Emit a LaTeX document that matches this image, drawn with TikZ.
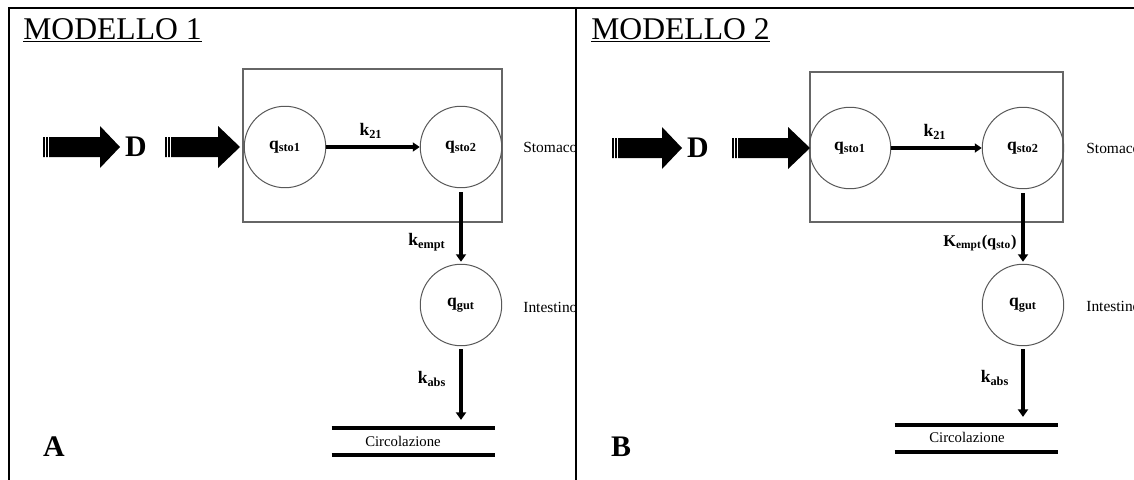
\documentclass[tikz,border=0pt]{standalone}
\usepackage{fontspec}
\setmainfont{Liberation Serif}
\usetikzlibrary{arrows.meta}
\newcommand\BigArr[4]{%
  \fill (#1,#4-10) -- (#2,#4-10) -- (#2,#4-21) -- (#3,#4) -- (#2,#4+21) -- (#2,#4+10) -- (#1,#4+10) -- cycle;
  \draw[white,line width=0.18mm] (#1+2.5,#4-11) -- (#1+2.5,#4+11) (#1+5.5,#4-11) -- (#1+5.5,#4+11);
}
\begin{document}
\begin{tikzpicture}[x=0.02cm,y=-0.02cm,
  comp/.style={circle,draw=black!65,line width=0.2mm,minimum size=1.63cm,inner sep=0pt,font=\fontsize{10}{12}\selectfont\bfseries},
  stobox/.style={draw=black!60,line width=0.3mm},
  vflow/.style={line width=0.95mm,-{Triangle[length=1.5mm,width=2mm]}},
  hflow/.style={line width=0.75mm,-{Triangle[length=1.4mm,width=1.8mm]}},
  rate/.style={font=\fontsize{10}{12}\selectfont\bfseries,inner sep=0pt},
  organ/.style={font=\fontsize{8.8}{10}\selectfont,anchor=west,inner sep=0pt},
  circbar/.style={minimum width=3.26cm,minimum height=0.53cm,inner sep=0pt},
  circtext/.style={font=\fontsize{8.4}{10}\selectfont,inner sep=0pt},
  title/.style={anchor=base west,inner sep=0pt,font=\fontsize{18}{20}\selectfont},
  panel/.style={inner sep=0pt,font=\fontsize{17}{20}\selectfont\bfseries},
  dose/.style={inner sep=0pt,font=\fontsize{17}{20}\selectfont\bfseries},
  frame/.style={line width=0.4mm}
]
\clip (0,0) rectangle (1134,480);
\fill[white] (0,0) rectangle (1134,480);
% frame
\draw[frame] (9,480) -- (9,8) -- (1134,8);
\draw[frame] (576,8) -- (576,480);

% ===== MODELLO 1 =====
\begin{scope}
\clip (10,9) rectangle (575,480);
\node[title] (t1) at (23,39) {\underline{MODELLO 1}};
\draw[stobox] (243,69) rectangle (502,222);
\node[comp] (s1a) at (285,147) {q\textsubscript{sto1}};
\node[comp] (s2a) at (461,147) {q\textsubscript{sto2}};
\node[comp] (ga) at (461,305) {q\textsubscript{gut}};
\node[circbar] (ca) at (413.5,441.5) {};
\draw[line width=0.8mm] (ca.north west) -- (ca.north east) (ca.south west) -- (ca.south east);
\node[circtext] (cta) at (403,441) {Circolazione};
\BigArr{43}{100}{120}{147}
\node[dose] (Da) at (136,147) {D};
\BigArr{165}{218}{240}{147}
\draw[hflow] (s1a) -- (s2a);
\node[rate] (k21a) at (371,131) {k\textsubscript{21}};
\draw[vflow,shorten <=0.8mm,shorten >=0.4mm] (s2a) -- (ga);
\node[rate] (kea) at (427,242) {k\textsubscript{empt}};
\draw[vflow,shorten <=0.6mm,shorten >=1.6mm] (ga) -- (ga |- ca.north);
\node[rate] (kaa) at (432,379) {k\textsubscript{abs}};
\node[organ] (sta) at (523,147) {Stomaco};
\node[organ] (ina) at (523,307) {Intestino};
\node[panel] (A) at (54,447) {A};
\end{scope}

% ===== MODELLO 2 =====
\begin{scope}
\clip (577,9) rectangle (1134,480);
\node[title] (t2) at (591,39) {\underline{MODELLO 2}};
\draw[stobox] (810,72) rectangle (1063,222);
\node[comp] (s1b) at (850,148) {q\textsubscript{sto1}};
\node[comp] (s2b) at (1023,148) {q\textsubscript{sto2}};
\node[comp] (gb) at (1023,305) {q\textsubscript{gut}};
\node[circbar] (cb) at (976.5,438.5) {};
\draw[line width=0.8mm] (cb.north west) -- (cb.north east) (cb.south west) -- (cb.south east);
\node[circtext] (ctb) at (967,437) {Circolazione};
\BigArr{612}{662}{682}{148}
\node[dose] (Db) at (698,148) {D};
\BigArr{732}{788}{810}{148}
\draw[hflow] (s1b) -- (s2b);
\node[rate] (k21b) at (935,132) {k\textsubscript{21}};
\draw[vflow,shorten <=0.8mm,shorten >=0.4mm] (s2b) -- (gb);
\node[rate,font=\fontsize{9.3}{11}\selectfont\bfseries] (keb) at (980,243) {K\textsubscript{empt}(q\textsubscript{sto})};
\draw[vflow,shorten <=0.6mm,shorten >=1.6mm] (gb) -- (gb |- cb.north);
\node[rate] (kab) at (995,378) {k\textsubscript{abs}};
\node[organ] (stb) at (1086,148) {Stomaco};
\node[organ] (inb) at (1086,306) {Intestino};
\node[panel] (B) at (621,447) {B};
\end{scope}
\end{tikzpicture}
\end{document}
